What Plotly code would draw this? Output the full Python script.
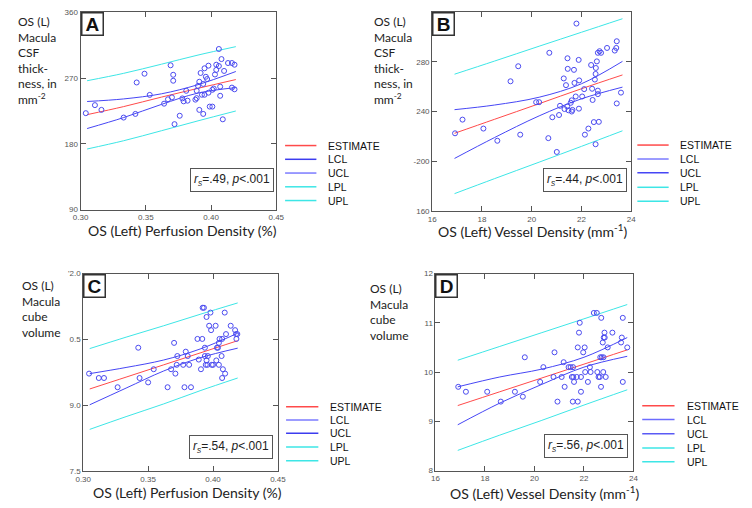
import plotly.graph_objects as go

# ---- Panel A: perfusion density vs macula CSF thickness
a_x = [0.304, 0.311, 0.316, 0.333, 0.342, 0.343, 0.349, 0.353, 0.364, 0.367, 0.369, 0.371, 0.371, 0.370,
       0.372, 0.376, 0.378, 0.379, 0.381, 0.382, 0.388, 0.389, 0.389, 0.390, 0.391, 0.392, 0.391, 0.394,
       0.394, 0.393, 0.395, 0.395, 0.396, 0.397, 0.398, 0.398, 0.399, 0.401, 0.401, 0.402, 0.403, 0.404,
       0.404, 0.406, 0.406, 0.407, 0.407, 0.408, 0.409, 0.410, 0.413, 0.416, 0.418, 0.416, 0.418]
a_y = [222, 233, 226.5, 216, 221, 264, 276, 247, 235, 241, 287.5, 274.5, 266.4, 243.6,
       207, 218.5, 242.2, 238.2, 252.6, 239.1, 240.5, 242.6, 252.6, 259.3, 265, 277, 226.5, 262,
       221, 247.2, 247.2, 283.4, 271.8, 268.7, 287, 250, 231, 231, 254, 255.7, 274.9, 281.2,
       288.3, 286.5, 309.8, 258.3, 245.8, 296, 213.6, 279.8, 290.6, 290.6, 288.3, 257, 254.7]
a_line_x = [0.305, 0.333, 0.362, 0.39, 0.419]
a_est = [220, 231, 244, 256, 268]
a_lcl = [201, 216, 234, 249.5, 257]
a_ucl = [238, 241.5, 248.5, 261, 279]
a_lpl = [173, 184.3, 198, 211.5, 225]
a_upl = [266.4, 276.5, 289, 301.5, 313]

# ---- Panel B: vessel density vs macula CSF thickness
b_x = [16.92, 17.22, 18.06, 18.62, 19.15, 19.46, 19.54, 20.18, 20.30, 20.67, 20.71, 20.83, 21.01, 21.10,
       21.14, 21.29, 21.32, 21.38, 21.43, 21.44, 21.45, 21.48, 21.57, 21.61, 21.61, 21.64, 21.70, 21.72,
       21.77, 21.80, 21.89, 21.90, 21.91, 22.03, 22.11, 22.14, 22.28, 22.39, 22.43, 22.45, 22.50, 22.54,
       22.57, 22.58, 22.57, 22.62, 22.66, 22.66, 22.66, 22.70, 22.73, 22.79, 23.03, 23.34, 23.40, 23.42,
       23.42, 23.59]
b_y = [222.5, 233.5, 226.3, 216.5, 264.3, 276.4, 221.4, 247.5, 247.5, 218.6, 287.2, 235.4, 207.5, 237.2,
       244.6, 266.6, 242, 261.2, 244.1, 282.8, 274.3, 241, 247, 249, 240, 241.3, 273.5, 263,
       252.1, 310.7, 281.5, 242.3, 265, 252.1, 258, 221.4, 226.3, 277.4, 258.3, 249.3, 231.5, 265.7,
       270.2, 275, 213.7, 280.3, 287.2, 256.8, 254, 231.7, 288.5, 287.2, 291.1, 289, 291.1, 296.5,
       246.5, 255.2]
b_line_x = [16.9, 18.5, 20.3, 22.0, 23.65]
b_est = [222.5, 233.7, 246.3, 258.3, 269.4]
b_lcl = [202.3, 219, 236.5, 250.2, 259.6]
b_ucl = [241.5, 245.2, 251.5, 262.3, 280.3]
b_lpl = [174, 186, 199.3, 212, 224.5]
b_upl = [270, 280.5, 292.5, 303.7, 314.6]
b_yticks = [160, 200, 240, 280, 320]
b_yticktext = ["160", "-200", "240", "280", "320"]

# ---- Panel C: perfusion density vs macula cube volume
c_x = [0.3045, 0.312, 0.316, 0.3265, 0.3424, 0.3434, 0.350, 0.3543, 0.365, 0.3677, 0.370, 0.371, 0.372,
       0.3725, 0.377, 0.378, 0.379, 0.3805, 0.3816, 0.383, 0.388, 0.389, 0.3907, 0.3917, 0.392, 0.393,
       0.3937, 0.3937, 0.3944, 0.395, 0.395, 0.3957, 0.396, 0.397, 0.398, 0.3985, 0.399, 0.400, 0.402,
       0.4025, 0.403, 0.4038, 0.4045, 0.4045, 0.405, 0.4066, 0.407, 0.407, 0.4076, 0.409, 0.4093, 0.410,
       0.4136, 0.417, 0.4177, 0.418, 0.4187]
c_y = [9.72, 9.62, 9.62, 9.41, 10.31, 9.62, 9.52, 9.82, 9.41, 9.82, 10.42, 9.72, 9.92,
       10.12, 9.92, 9.41, 10.22, 10.12, 9.92, 9.41, 10.51, 10.04, 9.82, 10.51, 11.22, 11.22,
       10.31, 10.12, 9.92, 11.01, 10.02, 9.92, 10.12, 10.81, 11.11, 10.71, 9.92, 9.92, 10.81,
       10.02, 10.31, 10.31, 9.92, 10.42, 10.51, 10.12, 9.62, 10.51, 9.82, 11.11, 9.72, 10.62,
       10.81, 10.71, 10.62, 10.51, 10.62]
c_line_x = [0.305, 0.333, 0.362, 0.39, 0.419]
c_est = [9.37, 9.64, 9.92, 10.19, 10.47]
c_lcl = [9.01, 9.39, 9.78, 10.08, 10.30]
c_ucl = [9.72, 9.86, 10.03, 10.28, 10.64]
c_lpl = [8.45, 8.74, 9.03, 9.33, 9.62]
c_upl = [10.29, 10.55, 10.81, 11.07, 11.33]
c_yticks = [7.5, 9.0, 10.5, 12.0]
c_yticktext = ["7.5", "9.0", "0.5", "'2.0"]

# ---- Panel D: vessel density vs macula cube volume
d_x = [16.92, 17.23, 18.09, 18.64, 19.21, 19.53, 19.61, 20.23, 20.36, 20.77, 20.81, 20.93, 21.10, 21.18,
       21.22, 21.38, 21.46, 21.51, 21.55, 21.56, 21.57, 21.60, 21.71, 21.75, 21.75, 21.80, 21.83, 21.88,
       21.88, 21.97, 22.03, 22.05, 22.16, 22.24, 22.27, 22.40, 22.52, 22.54, 22.59, 22.64, 22.66, 22.69,
       22.70, 22.72, 22.76, 22.78, 22.79, 22.80, 22.83, 22.84, 22.88, 22.96, 23.15, 23.50, 23.53, 23.57,
       23.57, 23.75]
d_y = [9.7, 9.6, 9.6, 9.4, 9.6, 9.5, 10.3, 9.8, 10.1, 9.9, 10.4, 9.4, 9.9, 10.2,
       9.7, 10.1, 10.1, 9.9, 9.4, 10.1, 9.9, 9.8, 9.9, 10.5, 9.4, 10.8, 11.0, 9.6,
       9.9, 10.4, 10.5, 10.0, 9.8, 10.1, 10.0, 11.2, 11.2, 10.0, 9.9, 9.9, 10.3, 9.7,
       11.1, 10.3, 10.6, 10.0, 10.3, 10.7, 10.8, 10.7, 9.9, 10.5, 10.8, 10.6, 10.7, 11.1,
       9.8, 10.5]
d_line_x = [16.9, 18.6, 20.3, 22.0, 23.75]
d_est = [9.32, 9.60, 9.88, 10.16, 10.45]
d_lcl = [8.93, 9.37, 9.75, 10.10, 10.32]
d_ucl = [9.70, 9.90, 10.06, 10.30, 10.70]
d_lpl = [8.41, 8.72, 9.02, 9.33, 9.64]
d_upl = [10.24, 10.52, 10.80, 11.08, 11.37]

legend_names = ["ESTIMATE", "LCL", "UCL", "LPL", "UPL"]
stats = ["<i>r<sub>s</sub></i>=.49, <i>p</i><.001", "<i>r<sub>s</sub></i>=.44, <i>p</i><.001",
         "<i>r<sub>s</sub></i>=.54, <i>p</i><.001", "<i>r<sub>s</sub></i>=.56, <i>p</i><.001"]

# the page body has an 8px margin, so the figure is laid out in window pixels minus that offset
OFF = 8
W, H = 752 - OFF, 508 - OFF
RED = "#ff4a4a"
BLUE = "#4646f5"
CYAN = "#3de6e6"
DOT = "#4b4bf0"


def px(x, y):
    return max(x - OFF, 0) / W, 1 - (y - OFF) / H


fig = go.Figure()

panels = [
    # axis suffix, data, lines, box in window pixels (left, right, top, bottom)
    dict(ax="", x=a_x, y=a_y, lx=a_line_x, est=a_est, lcl=a_lcl, ucl=a_ucl, lpl=a_lpl, upl=a_upl,
         box=(74, 274, 8.3, 209.3), label="A"),
    dict(ax="2", x=b_x, y=b_y, lx=b_line_x, est=b_est, lcl=b_lcl, ucl=b_ucl, lpl=b_lpl, upl=b_upl,
         box=(433.3, 636.7, 4, 210.7), label="B"),
    dict(ax="3", x=c_x, y=c_y, lx=c_line_x, est=c_est, lcl=c_lcl, ucl=c_ucl, lpl=c_lpl, upl=c_upl,
         box=(76.7, 275.7, 274.3, 475.5), label="C"),
    dict(ax="4", x=d_x, y=d_y, lx=d_line_x, est=d_est, lcl=d_lcl, ucl=d_ucl, lpl=d_lpl, upl=d_upl,
         box=(436.7, 639, 274.3, 475), label="D"),
]

for p in panels:
    xa, ya = "x" + p["ax"], "y" + p["ax"]
    for key, col in [("lpl", CYAN), ("upl", CYAN), ("lcl", BLUE), ("ucl", BLUE), ("est", RED)]:
        fig.add_trace(go.Scatter(x=p["lx"], y=p[key], mode="lines", line=dict(color=col, width=1, shape="spline"),
                                 xaxis=xa, yaxis=ya, showlegend=False, hoverinfo="skip"))
    fig.add_trace(go.Scatter(x=p["x"], y=p["y"], mode="markers", xaxis=xa, yaxis=ya, showlegend=False,
                             marker=dict(symbol="circle-open", size=5, color=DOT, line=dict(width=1))))

axis_style = dict(showgrid=False, zeroline=False, showline=True, linecolor="#555", linewidth=1,
                  mirror="ticks", ticks="inside", ticklen=5, tickcolor="#555",
                  tickfont=dict(family="Liberation Sans, Arial", size=8, color="#555"))

layout = {}
x_ranges = [[0.30, 0.45], [16, 24], [0.30, 0.45], [16, 24]]
y_ranges = [[90, 360], [160, 320], [7.5, 12.0], [8, 12]]
for i, p in enumerate(panels):
    l, r, t, b = p["box"]
    xl, yb = px(l, b)
    xr, yt = px(r, t)
    xdict = dict(axis_style, domain=[xl, xr], range=x_ranges[i], anchor="y" + p["ax"])
    ydict = dict(axis_style, domain=[yb, min(yt, 1)], range=y_ranges[i], anchor="x" + p["ax"])
    if i in (0, 2):
        xdict.update(tickvals=[0.30, 0.35, 0.40, 0.45], tickformat=".2f")
    else:
        xdict.update(tickvals=[16, 18, 20, 22, 24])
    if i == 0:
        ydict.update(tickvals=[90, 180, 270, 360])
    elif i == 1:
        ydict.update(tickvals=b_yticks, ticktext=b_yticktext)
    elif i == 2:
        ydict.update(tickvals=c_yticks, ticktext=c_yticktext)
    else:
        ydict.update(tickvals=[8, 9, 10, 11, 12])
    layout["xaxis" + p["ax"]] = xdict
    layout["yaxis" + p["ax"]] = ydict

annotations = []
shapes = []

# panel letters and stat boxes
stat_pos = [(0.99, 0.09), (0.98, 0.097), (0.975, 0.063), (0.975, 0.063)]
for i, p in enumerate(panels):
    sfx = p["ax"]
    annotations.append(dict(text="<b>%s</b>" % p["label"], xref="x%s domain" % sfx, yref="y%s domain" % sfx,
                            x=0, y=1, xanchor="left", yanchor="top", showarrow=False,
                            font=dict(family="Liberation Sans, Arial", size=19, color="#111"),
                            bordercolor="#333", borderwidth=1.5, borderpad=0, bgcolor="white",
                            width=20, height=21))
    sx, sy = stat_pos[i]
    annotations.append(dict(text=stats[i], xref="x%s domain" % sfx, yref="y%s domain" % sfx,
                            x=sx, y=sy, xanchor="right", yanchor="bottom", showarrow=False,
                            font=dict(family="Liberation Sans, Arial", size=12, color="#222"),
                            bordercolor="#555", borderwidth=1, borderpad=3, bgcolor="white"))

# y-axis titles
ytitle_font = dict(family="Lato", size=12, color="#222")
for (x0, y0, txt) in [(0, 4, "OS (L)<br>Macula<br>CSF<br>thick-<br>ness, in<br>mm<sup>-2</sup>"),
                      (372, 4, "OS (L)<br>Macula<br>CSF<br>thick-<br>ness, in<br>mm<sup>-2</sup>"),
                      (12, 277, "OS (L)<br>Macula<br>cube<br>volume"),
                      (368, 280, "OS (L)<br>Macula<br>cube<br>volume")]:
    xx, yy = px(x0, y0)
    annotations.append(dict(text=txt, xref="paper", yref="paper", x=xx, y=min(yy, 1), xanchor="left",
                            yanchor="top", align="left", showarrow=False, font=ytitle_font))

# x-axis titles
xtitle_font = dict(family="Lato", size=14, color="#222")
for (x0, y0, txt) in [(80, 230, "OS (Left) Perfusion Density (%)"),
                      (437, 231, "OS (Left) Vessel Density (mm<sup>-1</sup>)"),
                      (85, 497, "OS (Left) Perfusion Density (%)"),
                      (449, 497, "OS (Left) Vessel Density (mm<sup>-1</sup>)")]:
    xx, yy = px(x0, y0)
    annotations.append(dict(text=txt, xref="paper", yref="paper", x=xx, y=yy, xanchor="left", yanchor="middle",
                            showarrow=False, font=xtitle_font))

# legends drawn beside each panel
leg_colors = {
    "A": [RED, "#3c3cef", "#7b7bff", CYAN, CYAN],
    "B": [RED, "#7b7bff", "#4646f5", CYAN, CYAN],
    "C": [RED, "#7b7bff", "#3c3cef", CYAN, CYAN],
    "D": [RED, "#6c6cff", "#5a5af5", CYAN, CYAN],
}
leg_pos = {
    "A": (283, 315, 325, [144, 158, 172, 186, 200]),
    "B": (643, 675, 685, [143.5, 157.7, 171.7, 186.5, 200.7]),
    "C": (284, 317, 327, [410, 423.5, 437, 451, 465]),
    "D": (648, 681, 692, [409, 423, 437.5, 452, 466]),
}
for key, (lx0, lx1, tx, ys) in leg_pos.items():
    for name, col, yv in zip(legend_names, leg_colors[key], ys):
        x0, yy = px(lx0, yv)
        x1, _ = px(lx1, yv)
        shapes.append(dict(type="line", xref="paper", yref="paper", x0=x0, x1=x1, y0=yy, y1=yy,
                           line=dict(color=col, width=1.5)))
        t, _ = px(tx, yv)
        annotations.append(dict(text=name, xref="paper", yref="paper", x=t, y=yy, xanchor="left",
                                yanchor="middle", showarrow=False,
                                font=dict(family="Liberation Sans, Arial", size=10.5, color="#111")))

fig.update_layout(width=W, height=H, margin=dict(l=0, r=0, t=0, b=0), plot_bgcolor="white",
                  paper_bgcolor="white", showlegend=False, annotations=annotations, shapes=shapes, **layout)

fig.write_html("out.html")
